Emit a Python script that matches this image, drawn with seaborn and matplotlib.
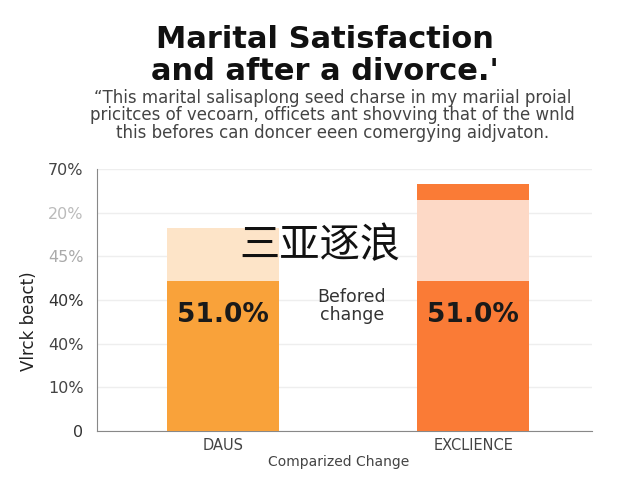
import matplotlib
matplotlib.use("Agg")
import matplotlib.pyplot as plt
import pandas as pd
import seaborn as sns

categories = ["DAUS", "EXCLIENCE"]
# bar heights in tick steps (the axis labels are not monotonic)
cap_top = [4.65, 5.65]
light_top = [4.65, 5.29]
dark_top = [3.43, 3.43]
bar_labels = ["51.0%", "51.0%"]
tick_labels = ["0", "10%", "40%", "40%", "45%", "20%", "70%"]
tick_colors = ["#333333", "#444444", "#444444", "#333333", "#aaaaaa", "#bbbbbb", "#444444"]

dark_colors = ["#F9A23A", "#FA7B36"]
light_colors = ["#FDE4C8", "#FDD9C6"]

df = pd.DataFrame({"cat": categories, "cap": cap_top, "light": light_top, "dark": dark_top})

sns.set_style("white")
plt.rcParams["font.family"] = ["DejaVu Sans", "Noto Sans CJK SC"]

fig = plt.figure(figsize=(6.4, 4.8), dpi=100)
ax = fig.add_axes([0.152, 0.102, 0.773, 0.546])

for col, pal, z in [("cap", dark_colors, 2), ("light", light_colors, 3), ("dark", dark_colors, 4)]:
    sns.barplot(data=df, x="cat", y=col, hue="cat", palette=pal, width=0.45,
                legend=False, ax=ax, saturation=1, zorder=z, linewidth=0)

for i, lab in enumerate(bar_labels):
    ax.text(i, 2.65, lab, ha="center", va="center", fontsize=19, fontweight="bold",
            color="#1a1a1a", zorder=5)

ax.text(0.515, 2.87, "Befored\nchange", ha="center", va="center", fontsize=12.5,
        color="#333333", linespacing=1.0)

ax.set_xlim(-0.504, 1.476)
ax.set_ylim(0, 6.0)
ax.set_yticks(range(len(tick_labels)))
ax.set_yticklabels(tick_labels, fontsize=11.5)
for t, c in zip(ax.get_yticklabels(), tick_colors):
    t.set_color(c)
ax.tick_params(axis="x", labelsize=10.5, colors="#444444", length=0, pad=5)
ax.tick_params(axis="y", length=0, pad=10)
ax.yaxis.grid(True, color="#eeeeee", linewidth=1, zorder=0)
ax.set_axisbelow(True)

for s in ["top", "right"]:
    ax.spines[s].set_visible(False)
ax.spines["left"].set_color("#888888")
ax.spines["bottom"].set_color("#888888")

ax.set_xlabel("Comparized Change", fontsize=10, color="#444444", labelpad=2)
ax.xaxis.set_label_coords(0.488, -0.09)
ax.set_ylabel("Vlrck beact)", fontsize=12, color="#222222")
ax.yaxis.set_label_coords(-0.12, 0.42)

fig.text(0.508, 0.885, "Marital Satisfaction\nand after a divorce.'", ha="center",
         va="center", fontsize=22, fontweight="bold", color="#111111", linespacing=1.13)
fig.text(0.52, 0.76, "\u201cThis marital salisaplong seed charse in my mariial proial\n"
         "pricitces of vecoarn, officets ant shovving that of the wnld\n"
         "this befores can doncer eeen comergying aidjvaton.",
         ha="center", va="center", fontsize=12, color="#444444", linespacing=0.95)

fig.text(0.5, 0.488, "三亚逐浪", ha="center", va="center", fontsize=29,
         family=["Noto Sans CJK SC", "DejaVu Sans"], color="#111111")

fig.savefig("out.png", dpi=100)
